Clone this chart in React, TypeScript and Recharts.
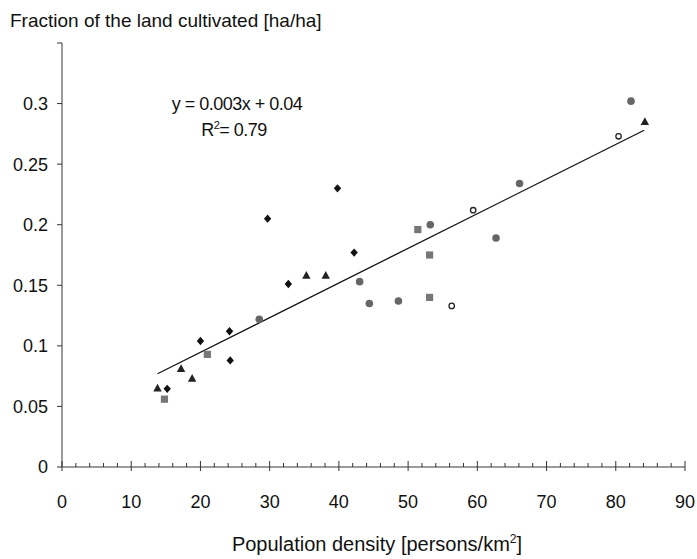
import { Scatter, ScatterChart, XAxis, YAxis } from 'recharts';

const FONT = '"Liberation Sans", Arial, Helvetica, sans-serif';

// values
const diamonds = [
  { x: 15.2, y: 0.0645 },
  { x: 20.0, y: 0.104 },
  { x: 24.2, y: 0.112 },
  { x: 24.3, y: 0.088 },
  { x: 29.7, y: 0.205 },
  { x: 32.7, y: 0.151 },
  { x: 39.8, y: 0.23 },
  { x: 42.2, y: 0.177 },
];
const triangles = [
  { x: 13.8, y: 0.065 },
  { x: 17.2, y: 0.081 },
  { x: 18.8, y: 0.073 },
  { x: 35.3, y: 0.158 },
  { x: 38.1, y: 0.158 },
  { x: 84.2, y: 0.285 },
];
const squares = [
  { x: 14.8, y: 0.056 },
  { x: 21.0, y: 0.093 },
  { x: 51.4, y: 0.196 },
  { x: 53.1, y: 0.175 },
  { x: 53.1, y: 0.14 },
];
const circles = [
  { x: 28.5, y: 0.122 },
  { x: 43.0, y: 0.153 },
  { x: 44.4, y: 0.135 },
  { x: 48.6, y: 0.137 },
  { x: 53.2, y: 0.2 },
  { x: 62.7, y: 0.189 },
  { x: 66.1, y: 0.234 },
  { x: 82.2, y: 0.302 },
];
const openCircles = [
  { x: 56.3, y: 0.133 },
  { x: 59.4, y: 0.212 },
  { x: 80.4, y: 0.273 },
];
// fitted line endpoints
const trend = [
  { x: 13.8, y: 0.077 },
  { x: 84.1, y: 0.278 },
];

const xMajor = [0, 10, 20, 30, 40, 50, 60, 70, 80, 90];
const xTicks = Array.from({ length: 46 }, (_, i) => i * 2);
const yTicks = [0, 0.05, 0.1, 0.15, 0.2, 0.25, 0.3, 0.35];

const Diamond = ({ cx, cy }: any) => (
  <path d={`M${cx},${cy - 4.2}L${cx + 3.7},${cy}L${cx},${cy + 4.2}L${cx - 3.7},${cy}Z`} fill="#111" />
);
const Triangle = ({ cx, cy }: any) => (
  <path d={`M${cx},${cy - 4.5}L${cx + 4.2},${cy + 3.2}L${cx - 4.2},${cy + 3.2}Z`} fill="#222" />
);
const Square = ({ cx, cy }: any) => <rect x={cx - 3.6} y={cy - 3.6} width={7.2} height={7.2} fill="#777" />;
const Dot = ({ cx, cy }: any) => <circle cx={cx} cy={cy} r={3.8} fill="#666" />;
const OpenDot = ({ cx, cy }: any) => (
  <circle cx={cx} cy={cy} r={2.7} fill="#fff" stroke="#222" strokeWidth={1.3} />
);
const NoShape = () => <g />;

const XTick = ({ x, y, payload }: any) => {
  const major = xMajor.includes(payload.value);
  return (
    <g>
      {major ? (
        <line x1={x} x2={x} y1={y - 6} y2={y + 4} stroke="#333" strokeWidth={1} />
      ) : (
        <line x1={x} x2={x} y1={y - 4} y2={y} stroke="#333" strokeWidth={1} />
      )}
      {major && (
        <text x={x} y={y + 41} textAnchor="middle" fontSize={18} fill="#111" fontFamily={FONT}>
          {payload.value}
        </text>
      )}
    </g>
  );
};

export default function App() {
  return (
    <div style={{ position: 'absolute', left: 0, top: 0, width: 697, height: 559, background: '#fff', fontFamily: FONT }}>
      <ScatterChart width={697} height={559} margin={{ top: 43, right: 12, bottom: 62, left: 0 }}>
        <XAxis
          type="number"
          dataKey="x"
          domain={[0, 90]}
          ticks={xTicks}
          interval={0}
          height={30}
          tick={<XTick />}
          tickLine={false}
          tickSize={0}
          tickMargin={0}
          axisLine={{ stroke: '#9a9a9a', strokeWidth: 2 }}
        />
        <YAxis
          type="number"
          dataKey="y"
          domain={[0, 0.35]}
          ticks={yTicks}
          interval={0}
          width={62}
          tickSize={5}
          tickMargin={9}
          tickFormatter={(v: number) => (v === 0.35 ? '' : String(v))}
          tick={{ fontSize: 18, fill: '#111', fontFamily: FONT }}
          tickLine={{ stroke: '#333' }}
          axisLine={{ stroke: '#9a9a9a', strokeWidth: 2 }}
        />
        <Scatter data={trend} line={{ stroke: '#111', strokeWidth: 1.3 }} shape={NoShape} isAnimationActive={false} />
        <Scatter data={diamonds} shape={Diamond} isAnimationActive={false} />
        <Scatter data={triangles} shape={Triangle} isAnimationActive={false} />
        <Scatter data={squares} shape={Square} isAnimationActive={false} />
        <Scatter data={circles} shape={Dot} isAnimationActive={false} />
        <Scatter data={openCircles} shape={OpenDot} isAnimationActive={false} />
      </ScatterChart>
      <div style={{ position: 'absolute', left: 10, top: 10, fontSize: 19, lineHeight: 1.149, color: '#111', whiteSpace: 'nowrap' }}>
        Fraction of the land cultivated [ha/ha]
      </div>
      <div style={{ position: 'absolute', left: 137, width: 200, top: 91, fontSize: 18, color: '#111', textAlign: 'center', lineHeight: '26px', letterSpacing: -0.5, whiteSpace: 'nowrap' }}>
        <div>y = 0.003x + 0.04</div>
        <div style={{ marginLeft: -6 }}>
          R<sup style={{ fontSize: 11, lineHeight: 0 }}>2</sup>= 0.79
        </div>
      </div>
      <div style={{ position: 'absolute', left: 177, width: 400, top: 533, fontSize: 20, lineHeight: 1.149, color: '#111', textAlign: 'center', whiteSpace: 'nowrap' }}>
        Population density [persons/km<sup style={{ fontSize: 12, lineHeight: 0 }}>2</sup>]
      </div>
    </div>
  );
}
